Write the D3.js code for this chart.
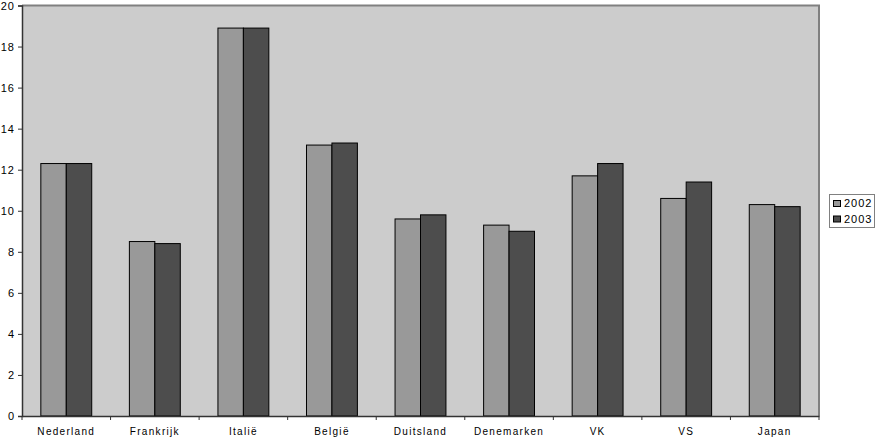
<!DOCTYPE html>
<html><head><meta charset="utf-8">
<script src="https://cdn.jsdelivr.net/npm/d3@7"></script>
<style>body{margin:0;background:#fff;}svg{display:block;font-family:"Liberation Sans",Arial,sans-serif;}</style>
</head><body><svg id="c" width="876" height="437"></svg>
<script>
const categories = ["Nederland","Frankrijk","Italië","België","Duitsland","Denemarken","VK","VS","Japan"];
const seriesNames = ["2002","2003"];
const values2002 = [12.3, 8.5, 18.9, 13.2, 9.6, 9.3, 11.7, 10.6, 10.3];
const values2003 = [12.3, 8.4, 18.9, 13.3, 9.8, 9.0, 12.3, 11.4, 10.2];
const yTicks = [0,2,4,6,8,10,12,14,16,18,20];
const colors = ["#999999","#4d4d4d"];

const svg = d3.select("#c");
const L = 22, R = 819, T = 5.5, B = 416;
const x = d3.scaleBand().domain(categories).range([L, R]).paddingInner(0).paddingOuter(0);
const y = d3.scaleLinear().domain([0, 20]).range([B, T]);
const xs = d3.scaleBand().domain(seriesNames).range([0, x.bandwidth()]).paddingInner(0).paddingOuter(0.74);

svg.append("rect").attr("x", L).attr("y", T).attr("width", R - L).attr("height", B - T).attr("fill", "#cccccc");
// top & right border
svg.append("path").attr("d", `M${L},${T}H${R}V${B}`).attr("fill","none").attr("stroke","#808080").attr("stroke-width",2);

const data = [values2002, values2003];
categories.forEach((c, i) => {
  seriesNames.forEach((s, j) => {
    const v = data[j][i];
    svg.append("rect")
      .attr("x", x(c) + xs(s))
      .attr("y", y(v))
      .attr("width", xs.bandwidth())
      .attr("height", y(0) - y(v))
      .attr("fill", colors[j])
      .attr("stroke", "#000").attr("stroke-width", 1);
  });
});

// y axis
const ya = svg.append("g").attr("transform", `translate(${L},0)`)
  .call(d3.axisLeft(y).tickValues(yTicks).tickSize(4).tickPadding(3).tickFormat(d3.format("d")));
ya.select(".domain").attr("stroke","#333").attr("stroke-width",1.5);
ya.selectAll(".tick line").attr("stroke","#333");
ya.selectAll("text").attr("font-size", 11).attr("letter-spacing", "1px").attr("fill","#000")
  .attr("font-family","'Liberation Sans',Arial,sans-serif");

// x axis
const xa = svg.append("g").attr("transform", `translate(0,${B})`)
  .call(d3.axisBottom(x).tickSize(0).tickPadding(12));
xa.select(".domain").attr("stroke","#333").attr("stroke-width",1.5);
xa.selectAll("text").attr("font-size", 10).attr("letter-spacing", "1.3px").attr("fill","#000")
  .attr("font-family","'Liberation Sans',Arial,sans-serif");
// boundary ticks
const bounds = categories.map(c => x(c)).concat([R]);
svg.append("g").selectAll("line").data(bounds).join("line")
  .attr("x1", d => d).attr("x2", d => d).attr("y1", B).attr("y2", B + 4).attr("stroke","#333");

// legend
const lg = svg.append("g");
lg.append("rect").attr("x", 829.5).attr("y", 194.5).attr("width", 45).attr("height", 33)
  .attr("fill","#fff").attr("stroke","#808080");
seriesNames.forEach((s, j) => {
  lg.append("rect").attr("x", 833.5).attr("y", 200.5 + j*15.5).attr("width", 7).attr("height", 6)
    .attr("fill", colors[j]).attr("stroke","#000");
  lg.append("text").attr("x", 844).attr("y", 207 + j*15.5).attr("font-size", 11)
    .attr("letter-spacing","1px").text(s);
});
</script></body></html>
